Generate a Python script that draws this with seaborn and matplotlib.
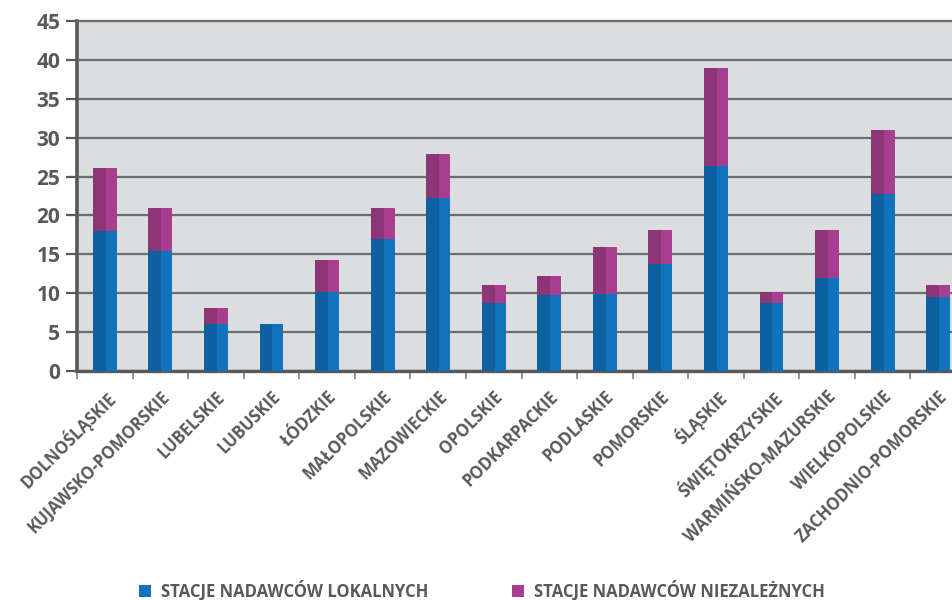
import matplotlib
matplotlib.use("Agg")
import matplotlib.pyplot as plt
from matplotlib.patches import Rectangle, Patch
from matplotlib.transforms import ScaledTranslation
import seaborn as sns
import pandas as pd

regions = ["DOLNOŚLĄSKIE", "KUJAWSKO-POMORSKIE", "LUBELSKIE", "LUBUSKIE", "ŁÓDZKIE",
           "MAŁOPOLSKIE", "MAZOWIECKIE", "OPOLSKIE", "PODKARPACKIE", "PODLASKIE",
           "POMORSKIE", "ŚLĄSKIE", "ŚWIĘTOKRZYSKIE", "WARMIŃSKO-MAZURSKIE",
           "WIELKOPOLSKIE", "ZACHODNIO-POMORSKIE"]
local_stations = [18, 15.4, 6.1, 6.1, 10.1, 17, 22.3, 8.7, 9.8, 9.9, 13.8, 26.4, 8.7, 12, 22.8, 9.5]
independent_stations = [8.1, 5.6, 2.0, 0, 4.2, 4, 5.6, 2.3, 2.4, 6.0, 4.3, 12.6, 1.4, 6.1, 8.2, 1.5]
series_names = ["STACJE NADAWCÓW LOKALNYCH", "STACJE NADAWCÓW NIEZALEŻNYCH"]
y_ticks = [0, 5, 10, 15, 20, 25, 30, 35, 40, 45]

df = pd.DataFrame({"region": regions, "local": local_stations, "indep": independent_stations})
df["total"] = df["local"] + df["indep"]

BLUE, BLUE_D = "#1173BC", "#0E61A0"
MAG, MAG_D = "#A83E8F", "#8C3577"
GRAY = "#58595B"
BG = "#DCDDDF"

sns.set_theme(style="white")
plt.rcParams["font.family"] = ["Open Sans", "DejaVu Sans"]
plt.rcParams["font.weight"] = "bold"

fig = plt.figure(figsize=(9.52, 6.0), dpi=100)
ax = fig.add_axes([77 / 952, 229 / 600, 889 / 952, 350 / 600])
ax.set_facecolor(BG)

def shade(patches, color, z):
    for p in patches:
        p.set_zorder(z)
        h = p.get_height()
        if h <= 0:
            continue
        ax.add_patch(Rectangle((p.get_x(), p.get_y()), p.get_width() * 0.54, h,
                               facecolor=color, edgecolor="none", zorder=z + 0.1))

sns.barplot(data=df, x="region", y="total", color=MAG, width=0.43, saturation=1,
            edgecolor="none", linewidth=0, ax=ax)
mag_patches = list(ax.patches)
shade(mag_patches, MAG_D, 2)
n_before = len(ax.patches)
sns.barplot(data=df, x="region", y="local", color=BLUE, width=0.43, saturation=1,
            edgecolor="none", linewidth=0, ax=ax)
blue_patches = [p for p in ax.patches[n_before:]]
shade(blue_patches, BLUE_D, 3)

ax.set_xlim(-0.5, len(regions) - 0.5)
ax.set_ylim(0, 45)
ax.set_yticks(y_ticks)
ax.set_yticklabels([str(v) for v in y_ticks])
ax.yaxis.grid(True, color="#6C6D70", linewidth=1.6, zorder=1)
ax.set_axisbelow(True)

ax.set_xticks(range(len(regions)))
ax.set_xticklabels(regions, rotation=45, ha="right", rotation_mode="anchor",
                   fontsize=12, fontweight="bold", color=GRAY)
shift = ScaledTranslation(-7 / 100, 0, fig.dpi_scale_trans)
for lbl in ax.get_xticklabels():
    lbl.set_transform(lbl.get_transform() + shift)
ax.set_xticks([i - 0.5 for i in range(len(regions) + 1)], minor=True)
ax.tick_params(axis="x", which="major", length=0, pad=12)
ax.tick_params(axis="x", which="minor", length=6, width=1.3, color="#8A8B8D", bottom=True)
ax.tick_params(axis="y", length=8, width=1.6, color=GRAY, pad=4, labelsize=15,
               labelcolor=GRAY, left=True)
for lbl in ax.get_yticklabels():
    lbl.set_fontweight("bold")

ax.set_xlabel("")
ax.set_ylabel("")
ax.spines["right"].set_visible(False)
ax.spines["top"].set_color("#6C6D70")
ax.spines["top"].set_linewidth(1.6)
ax.spines["left"].set_color(GRAY)
ax.spines["left"].set_linewidth(2.6)
ax.spines["bottom"].set_color(GRAY)
ax.spines["bottom"].set_linewidth(2.4)

handles = [Patch(facecolor=BLUE, edgecolor="none"), Patch(facecolor=MAG, edgecolor="none")]
fig.legend(handles, series_names, loc="center", bbox_to_anchor=(482 / 952, 1 - 591 / 600),
           ncol=2, frameon=False, handlelength=0.75, handleheight=0.75,
           handletextpad=0.6, columnspacing=5.0, labelcolor=GRAY,
           prop={"weight": "bold", "size": 12})

fig.savefig("out.png", dpi=100, facecolor="white")
